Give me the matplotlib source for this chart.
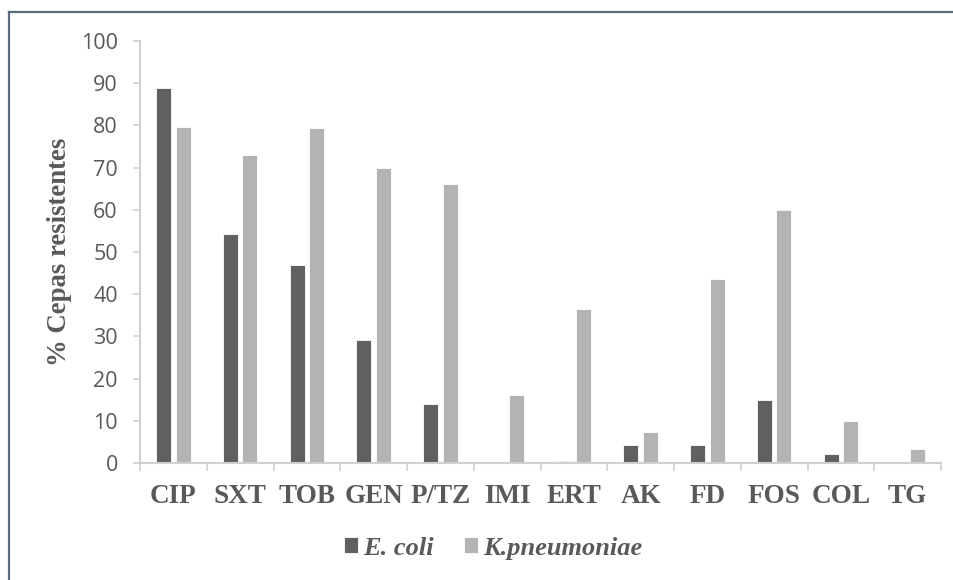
import matplotlib.pyplot as plt
from matplotlib.lines import Line2D
import numpy as np

# Antibiotic resistance data
antibiotics = ['CIP', 'SXT', 'TOB', 'GEN', 'P/TZ', 'IMI', 'ERT', 'AK', 'FD', 'FOS', 'COL', 'TG']
ecoli = [88.9, 54.2, 47.0, 29.1, 14.0, 0.0, 0.4, 4.2, 4.2, 15.0, 2.2, 0.0]
kpneu = [79.6, 73.0, 79.4, 70.0, 66.2, 16.0, 36.5, 7.3, 43.5, 60.0, 10.0, 3.3]

dark = '#606060'
light = '#b3b3b3'
axis_col = '#d0d0d0'
text_col = '#595959'

fig = plt.figure(figsize=(9.54, 5.8), dpi=100)
fig.patch.set_edgecolor('none')
fig.patch.set_linewidth(0)
ax = fig.add_axes([0.1468, 0.2017, 0.8396, 0.7276])

x = np.arange(len(antibiotics))
w = 0.225
ax.bar(x - 0.147, ecoli, w, color=dark, edgecolor='white', linewidth=0.6, label='E. coli')
ax.bar(x + 0.147, kpneu, w, color=light, edgecolor='white', linewidth=0.6, label='K.pneumoniae')

ax.set_xlim(-0.5, len(antibiotics) - 0.5)
ax.set_ylim(0, 100)
ax.set_yticks(range(0, 101, 10))
ax.set_xticks(x)
ax.set_xticklabels(antibiotics, family='Liberation Serif', fontweight='bold',
                   fontsize=19.5, color=text_col)
for lab in ax.get_yticklabels():
    lab.set_family('Open Sans')
    lab.set_fontsize(15.5)
    lab.set_color(text_col)

# category boundary ticks on the x axis
ax.set_xticks(np.arange(-0.5, len(antibiotics)), minor=True)
ax.tick_params(axis='x', which='major', length=0, pad=15)
ax.tick_params(axis='x', which='minor', length=6, color=axis_col, width=1.2)
ax.tick_params(axis='y', length=5, color=axis_col, width=1.2, pad=11)

for side in ['top', 'right']:
    ax.spines[side].set_visible(False)
for side in ['left', 'bottom']:
    ax.spines[side].set_color(axis_col)
    ax.spines[side].set_linewidth(1.5)

ax.set_ylabel('% Cepas resistentes', family='Liberation Serif', fontweight='bold',
              fontsize=19.3, color=text_col, labelpad=6)

leg = fig.legend(loc='center', bbox_to_anchor=(0.517, 0.055), ncol=2, frameon=False,
                 prop={'family': 'Liberation Serif', 'weight': 'bold', 'style': 'italic', 'size': 19},
                 handlelength=0.53, handleheight=0.53, handletextpad=0.2, columnspacing=1.15,
                 borderpad=0, borderaxespad=0)
for t in leg.get_texts():
    t.set_color(text_col)

# outer frame (top and left edges only)
frame_col = '#5b6b7f'
fig.add_artist(Line2D([9 / 954, 1.02], [1 - 12 / 580, 1 - 12 / 580], color=frame_col,
                      linewidth=1.6, transform=fig.transFigure))
fig.add_artist(Line2D([9 / 954, 9 / 954], [-0.02, 1 - 12 / 580], color=frame_col,
                      linewidth=1.6, transform=fig.transFigure))

plt.savefig('out.png', dpi=100)
